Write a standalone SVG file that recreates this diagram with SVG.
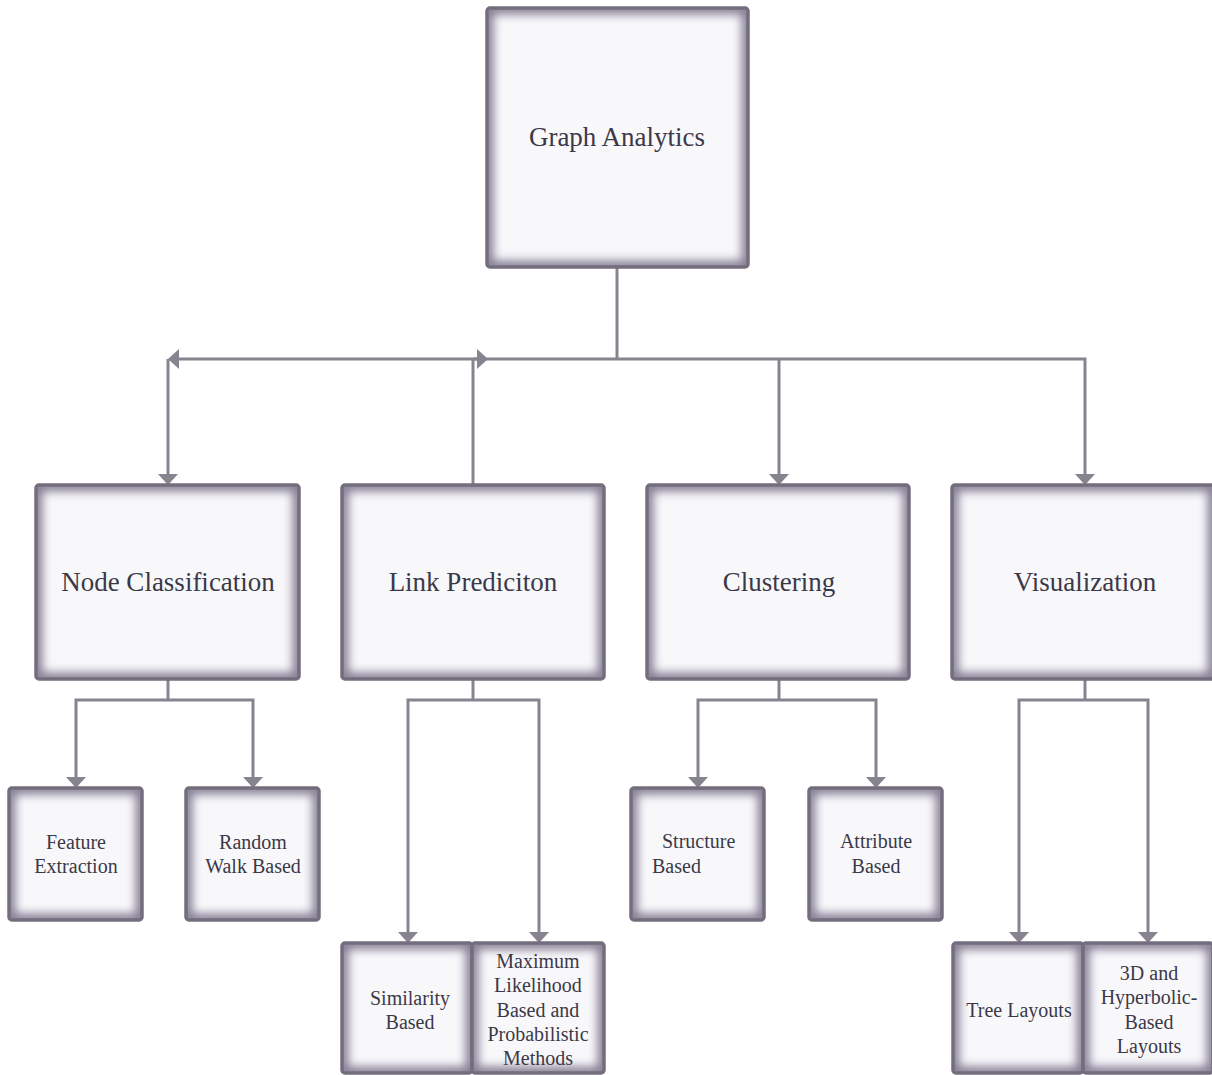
<svg xmlns="http://www.w3.org/2000/svg" width="1212" height="1075" viewBox="0 0 1212 1075">
  <defs>
    <style>
      .box { fill: #f8f8fb; }
      .glow { fill: none; stroke: #857f94; stroke-width: 13; }
      .edge { fill: none; stroke: #736d7d; stroke-width: 3.5; }
      .wire { fill: none; stroke: #87848f; stroke-width: 3; }
      .big { font-family: 'Liberation Serif', 'Times New Roman', serif; font-size: 27px; fill: #3b3848; text-anchor: middle; }
      .small { font-family: 'Liberation Serif', 'Times New Roman', serif; font-size: 20px; fill: #3b3848; text-anchor: middle; }
      .left { text-anchor: start; }
    </style>
    <!-- soft shading just inside each box edge -->
    <filter id="soften" x="-20%" y="-20%" width="140%" height="140%">
      <feGaussianBlur stdDeviation="5"/>
    </filter>
    <clipPath id="inside" clipPathUnits="objectBoundingBox">
      <rect x="0" y="0" width="1" height="1"/>
    </clipPath>
    <marker id="arrow" markerUnits="userSpaceOnUse" markerWidth="12" markerHeight="20" viewBox="0 0 11 20" refX="6" refY="10" orient="auto">
      <path d="M0,0 L11,10 L0,20 Z" fill="#87848f"/>
    </marker>
  </defs>

  <rect width="1212" height="1075" fill="#ffffff"/>

  <!-- connectors -->
  <g id="connectors">
    <!-- root to second level -->
    <path class="wire" d="M617,267 V359"/>
    <path class="wire" d="M617,359 H173" marker-end="url(#arrow)"/>
    <path class="wire" d="M617,359 H1085 V480" marker-end="url(#arrow)"/>
    <path class="wire" d="M473,359 H483" marker-end="url(#arrow)"/>
    <path class="wire" d="M168,359 V480" marker-end="url(#arrow)"/>
    <path class="wire" d="M473,359 V485"/>
    <path class="wire" d="M779,359 V480" marker-end="url(#arrow)"/>

    <!-- Node Classification children -->
    <path class="wire" d="M168,680 V700"/>
    <path class="wire" d="M168,700 H76 V783" marker-end="url(#arrow)"/>
    <path class="wire" d="M168,700 H253 V783" marker-end="url(#arrow)"/>

    <!-- Link Prediction children -->
    <path class="wire" d="M473,680 V700"/>
    <path class="wire" d="M473,700 H408 V938" marker-end="url(#arrow)"/>
    <path class="wire" d="M473,700 H539 V938" marker-end="url(#arrow)"/>

    <!-- Clustering children -->
    <path class="wire" d="M779,680 V700"/>
    <path class="wire" d="M779,700 H698 V783" marker-end="url(#arrow)"/>
    <path class="wire" d="M779,700 H876 V783" marker-end="url(#arrow)"/>

    <!-- Visualization children -->
    <path class="wire" d="M1085,680 V700"/>
    <path class="wire" d="M1085,700 H1019 V938" marker-end="url(#arrow)"/>
    <path class="wire" d="M1085,700 H1148 V938" marker-end="url(#arrow)"/>
  </g>

  <!-- root -->
  <g id="graph-analytics">
    <rect class="box" x="487" y="8" width="261" height="259"/>
    <rect class="glow" clip-path="url(#inside)" filter="url(#soften)" x="487" y="8" width="261" height="259"/>
    <rect class="edge" x="487" y="8" width="261" height="259" rx="3"/>
    <text class="big" x="617" y="146">Graph Analytics</text>
  </g>

  <!-- second level -->
  <g id="node-classification">
    <rect class="box" x="36" y="485" width="263" height="194"/>
    <rect class="glow" clip-path="url(#inside)" filter="url(#soften)" x="36" y="485" width="263" height="194"/>
    <rect class="edge" x="36" y="485" width="263" height="194" rx="3"/>
    <text class="big" x="168" y="591">Node Classification</text>
  </g>
  <g id="link-prediction">
    <rect class="box" x="342" y="485" width="262" height="194"/>
    <rect class="glow" clip-path="url(#inside)" filter="url(#soften)" x="342" y="485" width="262" height="194"/>
    <rect class="edge" x="342" y="485" width="262" height="194" rx="3"/>
    <text class="big" x="473" y="591">Link Prediciton</text>
  </g>
  <g id="clustering">
    <rect class="box" x="647" y="485" width="262" height="194"/>
    <rect class="glow" clip-path="url(#inside)" filter="url(#soften)" x="647" y="485" width="262" height="194"/>
    <rect class="edge" x="647" y="485" width="262" height="194" rx="3"/>
    <text class="big" x="779" y="591">Clustering</text>
  </g>
  <g id="visualization">
    <rect class="box" x="952" y="485" width="262" height="194"/>
    <rect class="glow" clip-path="url(#inside)" filter="url(#soften)" x="952" y="485" width="262" height="194"/>
    <rect class="edge" x="952" y="485" width="262" height="194" rx="3"/>
    <text class="big" x="1085" y="591">Visualization</text>
  </g>

  <!-- third level -->
  <g id="feature-extraction">
    <rect class="box" x="9" y="788" width="133" height="132"/>
    <rect class="glow" clip-path="url(#inside)" filter="url(#soften)" x="9" y="788" width="133" height="132"/>
    <rect class="edge" x="9" y="788" width="133" height="132" rx="3"/>
    <text class="small" x="76" y="849">Feature</text>
    <text class="small" x="76" y="873">Extraction</text>
  </g>
  <g id="random-walk">
    <rect class="box" x="186" y="788" width="133" height="132"/>
    <rect class="glow" clip-path="url(#inside)" filter="url(#soften)" x="186" y="788" width="133" height="132"/>
    <rect class="edge" x="186" y="788" width="133" height="132" rx="3"/>
    <text class="small" x="253" y="849">Random</text>
    <text class="small" x="253" y="873">Walk Based</text>
  </g>
  <g id="similarity">
    <rect class="box" x="342" y="943" width="130" height="130"/>
    <rect class="glow" clip-path="url(#inside)" filter="url(#soften)" x="342" y="943" width="130" height="130"/>
    <rect class="edge" x="342" y="943" width="130" height="130" rx="3"/>
    <text class="small" x="410" y="1005">Similarity</text>
    <text class="small" x="410" y="1029">Based</text>
  </g>
  <g id="max-likelihood">
    <rect class="box" x="472" y="943" width="132" height="130"/>
    <rect class="glow" clip-path="url(#inside)" filter="url(#soften)" x="472" y="943" width="132" height="130"/>
    <rect class="edge" x="472" y="943" width="132" height="130" rx="3"/>
    <text class="small" x="538" y="968">Maximum</text>
    <text class="small" x="538" y="992">Likelihood</text>
    <text class="small" x="538" y="1017">Based and</text>
    <text class="small" x="538" y="1041">Probabilistic</text>
    <text class="small" x="538" y="1065">Methods</text>
  </g>
  <g id="structure-based">
    <rect class="box" x="631" y="788" width="133" height="132"/>
    <rect class="glow" clip-path="url(#inside)" filter="url(#soften)" x="631" y="788" width="133" height="132"/>
    <rect class="edge" x="631" y="788" width="133" height="132" rx="3"/>
    <text class="small left" x="662" y="848">Structure</text>
    <text class="small left" x="652" y="873">Based</text>
  </g>
  <g id="attribute-based">
    <rect class="box" x="809" y="788" width="133" height="132"/>
    <rect class="glow" clip-path="url(#inside)" filter="url(#soften)" x="809" y="788" width="133" height="132"/>
    <rect class="edge" x="809" y="788" width="133" height="132" rx="3"/>
    <text class="small" x="876" y="848">Attribute</text>
    <text class="small" x="876" y="873">Based</text>
  </g>
  <g id="tree-layouts">
    <rect class="box" x="953" y="943" width="130" height="130"/>
    <rect class="glow" clip-path="url(#inside)" filter="url(#soften)" x="953" y="943" width="130" height="130"/>
    <rect class="edge" x="953" y="943" width="130" height="130" rx="3"/>
    <text class="small" x="1019" y="1017">Tree Layouts</text>
  </g>
  <g id="hyperbolic-layouts">
    <rect class="box" x="1083" y="943" width="130" height="130"/>
    <rect class="glow" clip-path="url(#inside)" filter="url(#soften)" x="1083" y="943" width="130" height="130"/>
    <rect class="edge" x="1083" y="943" width="130" height="130" rx="3"/>
    <text class="small" x="1149" y="980">3D and</text>
    <text class="small" x="1149" y="1004">Hyperbolic-</text>
    <text class="small" x="1149" y="1029">Based</text>
    <text class="small" x="1149" y="1053">Layouts</text>
  </g>
</svg>
